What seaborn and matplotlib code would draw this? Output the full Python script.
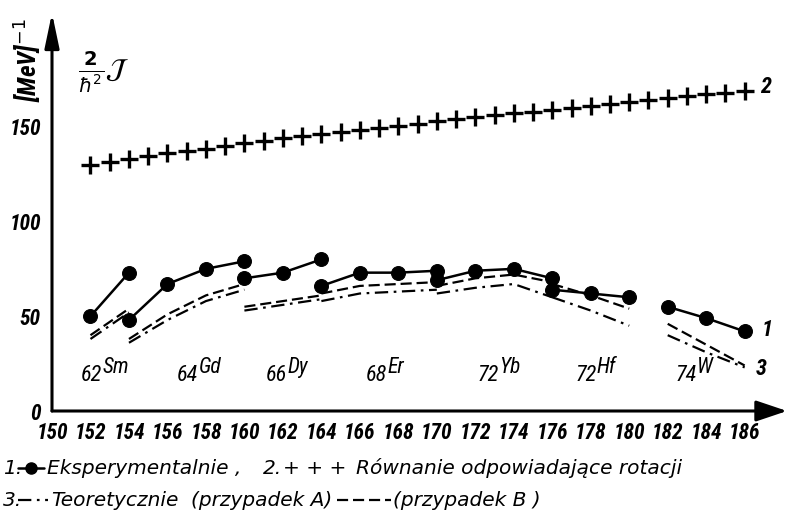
import matplotlib
matplotlib.use("Agg")
import matplotlib.pyplot as plt
import seaborn as sns
from matplotlib.lines import Line2D

# ---------------- data ----------------
# experimental values (series 1) by isotope chain
sm_A = [152, 154]
sm_exp = [50, 73]
gd_A = [154, 156, 158, 160]
gd_exp = [48, 67, 75, 79]
dy_A = [160, 162, 164]
dy_exp = [70, 73, 80]
er_A = [164, 166, 168, 170]
er_exp = [66, 73, 73, 74]
yb_A = [170, 172, 174, 176]
yb_exp = [69, 74, 75, 70]
hf_A = [176, 178, 180]
hf_exp = [64, 62, 60]
w_A = [182, 184, 186]
w_exp = [55, 49, 42]

# theoretical, case A (dash-dot) and case B (dashed)
sm_thA = [38, 52]
sm_thB = [40, 54]
gd_thA = [36, 48, 58, 64]
gd_thB = [38, 51, 61, 67]
dy_thA = [53, 56, 59]
dy_thB = [55, 58, 61]
er_thA = [58, 62, 63, 64]
er_thB = [62, 66, 67, 68]
yb_thA = [62, 65, 67, 60]
yb_thB = [66, 70, 72, 68]
hf_thA = [60, 53, 45]
hf_thB = [67, 61, 54]
w_thA = [40, 31, 23]
w_thB = [46, 35, 24]

# rigid-rotation values (series 2, crosses)
rot_A = [152, 153, 154, 155, 156, 157, 158, 159, 160, 161, 162, 163,
         164, 165, 166, 167, 168, 169, 170, 171, 172, 173, 174, 175,
         176, 177, 178, 179, 180, 181, 182, 183, 184, 185, 186]
rot_val = [130, 131.5, 133, 134.5, 136, 137, 138.5, 140, 141.5, 142.5,
           144, 145, 146, 147, 148.5, 149.5, 150.5, 151.5, 153, 154,
           155, 156, 157, 158, 159, 160, 161, 162, 163, 164, 165, 166,
           167, 168, 169]

elem_Z = ["62", "64", "66", "68", "72", "72", "74"]
elem_sym = ["Sm", "Gd", "Dy", "Er", "Yb", "Hf", "W"]
elem_xpos = [151.5, 156.5, 161.1, 166.3, 172.1, 177.2, 182.4]

x_ticks = list(range(150, 187, 2))
y_ticks = [0, 50, 100, 150]

legend_1 = ["1.", "Eksperymentalnie ,", "2.", "+ + +", "Równanie odpowiadające rotacji"]
legend_2 = ["3.", "Teoretycznie", "(przypadek A)", "(przypadek B )"]

# ---------------- style ----------------
sns.set_style("white")
NARROW = ["Liberation Sans Narrow", "DejaVu Sans Condensed", "Roboto Condensed",
          "Roboto", "DejaVu Sans"]
plt.rcParams["font.family"] = NARROW

W, H = 789, 513
fig = plt.figure(figsize=(W / 100, H / 100), dpi=100)
fig.patch.set_facecolor("white")
ax = fig.add_axes([52 / W, (H - 411) / H, 735 / W, 398 / H])
ax.set_xlim(150, 188.2)
ax.set_ylim(0, 210)
for s in ax.spines.values():
    s.set_visible(False)

K = "black"
dashdot = (0, (6, 2.5, 1.2, 2.5))
dashed = (0, (5, 2.2))

groups = [
    (sm_A, sm_exp, sm_thA, sm_thB),
    (gd_A, gd_exp, gd_thA, gd_thB),
    (dy_A, dy_exp, dy_thA, dy_thB),
    (er_A, er_exp, er_thA, er_thB),
    (yb_A, yb_exp, yb_thA, yb_thB),
    (hf_A, hf_exp, hf_thA, hf_thB),
    (w_A, w_exp, w_thA, w_thB),
]
for xs, ye, ya, yb in groups:
    sns.lineplot(x=xs, y=ya, ax=ax, color=K, lw=1.6, linestyle=dashdot,
                 estimator=None, sort=False)
    sns.lineplot(x=xs, y=yb, ax=ax, color=K, lw=1.6, linestyle=dashed,
                 estimator=None, sort=False)
    sns.lineplot(x=xs, y=ye, ax=ax, color=K, lw=1.8, marker="o",
                 markersize=10, markeredgecolor=K, markerfacecolor=K,
                 estimator=None, sort=False)

sns.lineplot(x=rot_A, y=rot_val, ax=ax, color=K, linestyle="none",
             marker="+", markersize=12.5, markeredgewidth=2.4,
             markeredgecolor=K, estimator=None, sort=False)

# axes with arrow heads
ax.annotate("", xy=(188.2, 0), xytext=(150, 0), xycoords="data",
            arrowprops=dict(arrowstyle="-|>,head_length=0.95,head_width=0.32",
                            lw=2.2, color=K, shrinkA=0, shrinkB=0,
                            mutation_scale=20),
            annotation_clip=False)
ax.annotate("", xy=(150, 210), xytext=(150, 0), xycoords="data",
            arrowprops=dict(arrowstyle="-|>,head_length=1.05,head_width=0.22",
                            lw=2.2, color=K, shrinkA=0, shrinkB=0,
                            mutation_scale=20),
            annotation_clip=False)

ax.set_xticks(x_ticks)
ax.set_yticks(y_ticks)
ax.set_xticklabels([str(t) for t in x_ticks])
ax.set_yticklabels([str(t) for t in y_ticks])
ax.tick_params(axis="x", direction="in", length=8, width=1.6, pad=8,
               colors=K, labelsize=15.5)
ax.tick_params(axis="y", direction="in", length=10, width=2, pad=8,
               colors=K, labelsize=15.5)
for lab in ax.get_xticklabels() + ax.get_yticklabels():
    lab.set_fontstyle("italic")
    lab.set_fontweight("bold")
ax.set_xlabel("")
ax.set_ylabel("")

# element labels
for z, sym, xp in zip(elem_Z, elem_sym, elem_xpos):
    ax.text(xp, 16, z, fontsize=16, style="italic", ha="left",
            va="baseline", color=K)
    ax.annotate(sym, xy=(xp, 16), xytext=(15.5, 5.5), textcoords="offset points",
                fontsize=15.5, style="italic", ha="left", va="baseline",
                color=K)

# series numbers
ax.text(186.8, 171, "2", fontsize=16, style="italic", weight="bold",
        ha="left", va="center", color=K)
ax.text(186.9, 43, "1", fontsize=16, style="italic", weight="bold",
        ha="left", va="center", color=K)
ax.text(186.6, 22, "3", fontsize=16, style="italic", weight="bold",
        ha="left", va="center", color=K)

# quantity and unit
ax.text(152.7, 179, r"$\frac{\mathbf{2}}{\hbar^{2}}\mathcal{J}$", fontsize=20,
        ha="center", va="center", color=K, math_fontfamily="dejavusans")
fig.text(28 / W, 1 - 60 / H, r"[MeV]$^{-1}$", rotation=90, fontsize=18,
         style="italic", weight="bold", ha="center", va="center", color=K)


# ---------------- legend (bottom, two text lines) ----------------
def fx(px):
    return px / W


def fy(py):
    return 1 - py / H


lfont = dict(fontsize=14.5, style="italic", va="center", ha="left",
             color=K, family=["DejaVu Sans"])
y1, y2 = 468, 500
fig.text(fx(3), fy(y1), legend_1[0], **lfont)
fig.add_artist(Line2D([fx(18), fx(44)], [fy(y1), fy(y1)], color=K, lw=1.8,
                      transform=fig.transFigure))
fig.add_artist(Line2D([fx(31)], [fy(y1)], marker="o", markersize=8,
                      color=K, transform=fig.transFigure))
fig.text(fx(47), fy(y1), legend_1[1], **lfont)
fig.text(fx(263), fy(y1), legend_1[2], **lfont)
fig.text(fx(283), fy(y1), legend_1[3], **lfont)
fig.text(fx(356), fy(y1), legend_1[4], **lfont)

fig.text(fx(3), fy(y2), legend_2[0], **lfont)
fig.add_artist(Line2D([fx(18), fx(48)], [fy(y2), fy(y2)], color=K, lw=1.6,
                      linestyle=dashdot, transform=fig.transFigure))
fig.text(fx(51), fy(y2), legend_2[1], **lfont)
fig.text(fx(191), fy(y2), legend_2[2], **lfont)
fig.add_artist(Line2D([fx(337), fx(391)], [fy(y2), fy(y2)], color=K, lw=1.6,
                      linestyle=dashed, transform=fig.transFigure))
fig.text(fx(393), fy(y2), legend_2[3], **lfont)

fig.savefig("out.png", dpi=100, facecolor="white")
